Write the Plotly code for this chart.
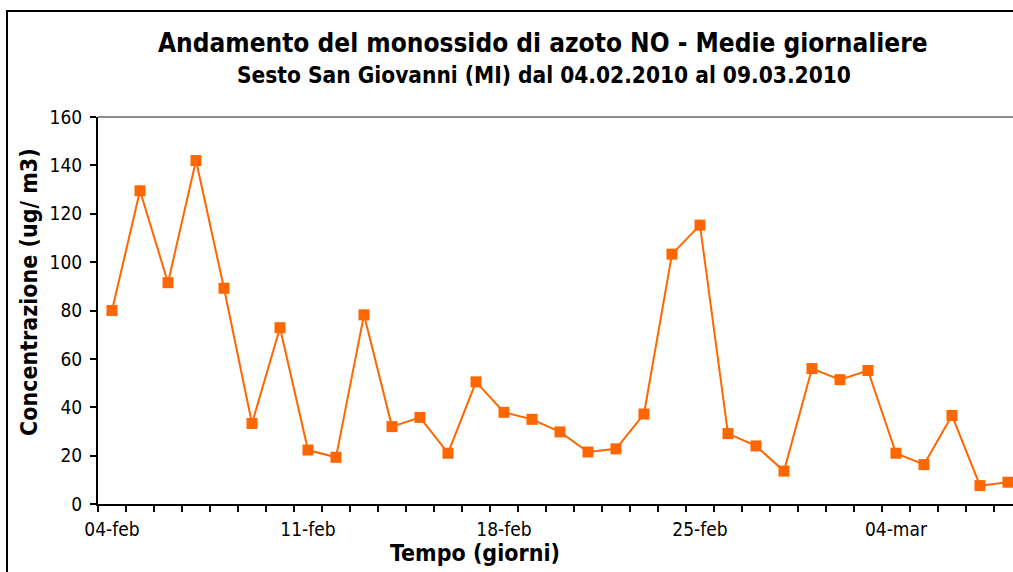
import plotly.graph_objects as go

# Daily mean NO concentration, Sesto San Giovanni (MI)
dates = [
    "2010-02-04", "2010-02-05", "2010-02-06", "2010-02-07", "2010-02-08",
    "2010-02-09", "2010-02-10", "2010-02-11", "2010-02-12", "2010-02-13",
    "2010-02-14", "2010-02-15", "2010-02-16", "2010-02-17", "2010-02-18",
    "2010-02-19", "2010-02-20", "2010-02-21", "2010-02-22", "2010-02-23",
    "2010-02-24", "2010-02-25", "2010-02-26", "2010-02-27", "2010-02-28",
    "2010-03-01", "2010-03-02", "2010-03-03", "2010-03-04", "2010-03-05",
    "2010-03-06", "2010-03-07", "2010-03-08",
]
no_ugm3 = [
    80, 129.5, 91.5, 142, 89.2, 33.3, 72.9, 22.3, 19.3, 78.2,
    32, 35.8, 21, 50.5, 37.9, 35, 29.8, 21.5, 22.8, 37.2,
    103.3, 115.3, 29.1, 24, 13.6, 56, 51.4, 55.2, 21, 16.3,
    36.6, 7.6, 9,
]
tick_dates = ["2010-02-04", "2010-02-11", "2010-02-18", "2010-02-25", "2010-03-04"]
tick_labels = ["04-feb", "11-feb", "18-feb", "25-feb", "04-mar"]
y_ticks = [0, 20, 40, 60, 80, 100, 120, 140, 160]

ORANGE = "#FF6600"
FONT = "DejaVu Sans Condensed, DejaVu Sans, sans-serif"

W, H = 1013, 572
L, R, T, B = 98, 0, 117, 68
pw, ph = W - L - R, H - T - B


def px_x(px):
    return (px - L) / pw


def px_y(py):
    return (H - B - py) / ph


fig = go.Figure()
fig.add_trace(go.Scatter(
    x=dates, y=no_ugm3, mode="lines+markers",
    line=dict(color=ORANGE, width=2),
    marker=dict(symbol="square", size=11, color=ORANGE),
    showlegend=False,
))

fig.update_layout(
    width=W, height=H,
    margin=dict(l=L, r=R, t=T, b=B),
    paper_bgcolor="white", plot_bgcolor="white",
    font=dict(family=FONT, color="black", size=19),
    xaxis=dict(
        type="date",
        range=["2010-02-03 12:00", "2010-03-08 04:19"],
        tickvals=tick_dates, ticktext=tick_labels,
        ticks="", showgrid=False, zeroline=False,
        showline=True, linecolor="black", linewidth=2,
        ticklabelstandoff=7,
        tickfont=dict(size=19),
        minor=dict(ticks="outside", ticklen=6, tickwidth=2, tickcolor="black",
                   dtick=86400000, tick0="2010-02-03 12:00", showgrid=False),
    ),
    yaxis=dict(
        range=[0, 160], tickvals=y_ticks,
        ticks="outside", ticklen=6, tickwidth=2, tickcolor="black",
        showgrid=False, zeroline=False,
        showline=True, linecolor="black", linewidth=2,
        tickfont=dict(size=19), ticklabelstandoff=4,
    ),
    shapes=[
        # plot area top border
        dict(type="line", xref="paper", yref="paper", x0=0, x1=1.01, y0=1, y1=1,
             line=dict(color="#8c8c8c", width=2)),
        # chart frame
        dict(type="rect", xref="paper", yref="paper",
             x0=px_x(7), x1=px_x(1030), y0=px_y(11), y1=px_y(590),
             line=dict(color="black", width=2)),
    ],
    annotations=[
        dict(text="<b>Andamento del monossido di azoto NO - Medie giornaliere</b>",
             xref="paper", yref="paper", x=px_x(543), y=px_y(43),
             xanchor="center", yanchor="middle", showarrow=False,
             font=dict(size=26)),
        dict(text="<b>Sesto San Giovanni (MI) dal 04.02.2010 al 09.03.2010</b>",
             xref="paper", yref="paper", x=px_x(544), y=px_y(75),
             xanchor="center", yanchor="middle", showarrow=False,
             font=dict(size=22.5)),
        # axis titles
        dict(text="<b>Tempo (giorni)</b>",
             xref="paper", yref="paper", x=px_x(475), y=px_y(553),
             xanchor="center", yanchor="middle", showarrow=False,
             font=dict(size=23)),
        dict(text="<b>Concentrazione (ug/ m3)</b>", textangle=-90,
             xref="paper", yref="paper", x=px_x(29), y=px_y(292),
             xanchor="center", yanchor="middle", showarrow=False,
             font=dict(size=23)),
    ],
)

fig.write_html("out.html")
